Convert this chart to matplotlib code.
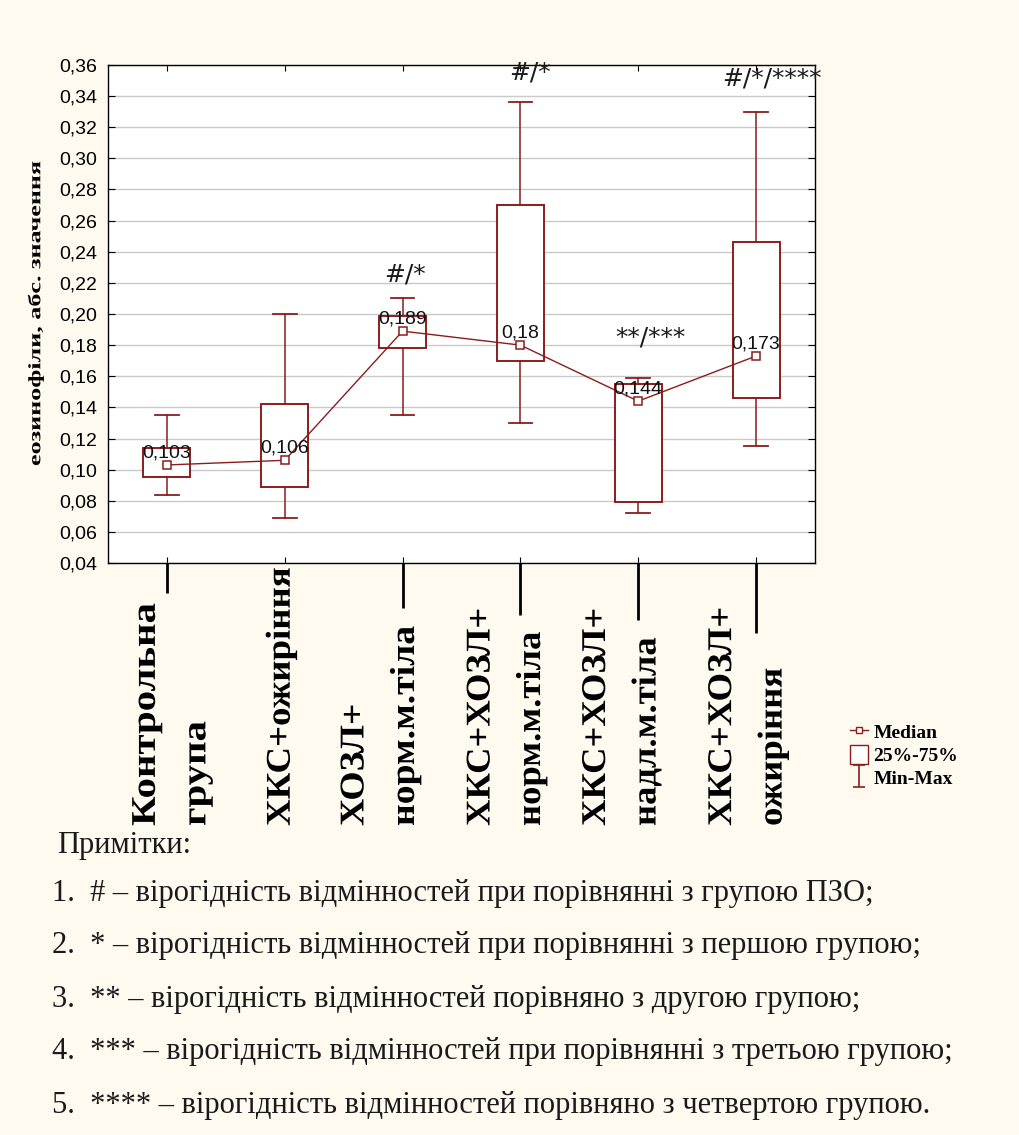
import matplotlib
matplotlib.use("Agg")
import matplotlib.pyplot as plt
from matplotlib.patheffects import AbstractPathEffect
from matplotlib.transforms import Affine2D, blended_transform_factory
from matplotlib.lines import Line2D
from matplotlib.patches import Patch
from matplotlib.path import Path

# ---- data -------------------------------------------------------------
groups = ["Контрольна\nгрупа", "ХКС+ожиріння", "ХОЗЛ+\nнорм.м.тіла",
          "ХКС+ХОЗЛ+\nнорм.м.тіла", "ХКС+ХОЗЛ+\nнадл.м.тіла",
          "ХКС+ХОЗЛ+\nожиріння"]
median = [0.103, 0.106, 0.189, 0.18, 0.144, 0.173]
q25 = [0.095, 0.089, 0.178, 0.170, 0.079, 0.146]
q75 = [0.114, 0.142, 0.199, 0.270, 0.155, 0.246]
vmin = [0.084, 0.069, 0.135, 0.130, 0.072, 0.115]
vmax = [0.135, 0.200, 0.210, 0.336, 0.159, 0.330]
marks = ["", "", "#/*", "#/*", "**/***", "#/*/****"]
y_ticks = [0.04, 0.06, 0.08, 0.10, 0.12, 0.14, 0.16, 0.18, 0.20,
           0.22, 0.24, 0.26, 0.28, 0.30, 0.32, 0.34, 0.36]
y_title = "еозинофіли, абс. значення"
legend_labels = ["Median", "25%-75%", "Min-Max"]
notes_title = "Примітки:"
notes = [
    "1.  # – вірогідність відмінностей при порівнянні з групою ПЗО;",
    "2.  * – вірогідність відмінностей при порівнянні з першою групою;",
    "3.  ** – вірогідність відмінностей порівняно з другою групою;",
    "4.  *** – вірогідність відмінностей при порівнянні з третьою групою;",
    "5.  **** – вірогідність відмінностей порівняно з четвертою групою.",
]

# ---- layout / style ---------------------------------------------------
RED = "#8c1c1c"
BG = "#fffaf0"
W, H = 1019, 1135
SANS = ["Liberation Sans", "DejaVu Sans"]
SERIF = ["Liberation Serif", "DejaVu Serif"]

mark_y = [None, None, 0.2257, 0.3555, 0.1846, 0.3516]
mark_dx = [0, 0, 0.02, 0.08, 0.10, 0.13]
label_dx = [0.04, -0.03, -0.19, -0.12, -0.14, -0.07]
label_len = [223, 259, 200, 219, 219, 220]
tick_drop = [0.060, 0.0, 0.090, 0.104, 0.114, 0.141]


class Stretch(AbstractPathEffect):
    """Draw text glyphs stretched along the writing direction."""

    def __init__(self, sx):
        super().__init__()
        self.sx = sx

    def draw_path(self, renderer, gc, tpath, affine, rgbFace=None):
        renderer.draw_path(gc, tpath, Affine2D().scale(self.sx, 1.0) + affine,
                           rgbFace)


fig = plt.figure(figsize=(W / 100, H / 100), dpi=100, facecolor=BG)
ax = fig.add_axes([108 / W, 1 - 563 / H, 707 / W, 498 / H])
ax.set_facecolor("white")

pos = list(range(1, len(groups) + 1))
stats = [dict(med=m, q1=a, q3=b, whislo=lo, whishi=hi, fliers=[])
         for m, a, b, lo, hi in zip(median, q25, q75, vmin, vmax)]
ax.bxp(stats, positions=pos, widths=0.4, capwidths=0.2, patch_artist=True,
       showfliers=False, manage_ticks=False,
       boxprops=dict(facecolor="white", edgecolor=RED, linewidth=1.4),
       whiskerprops=dict(color=RED, linewidth=1.1),
       capprops=dict(color=RED, linewidth=1.3),
       medianprops=dict(linewidth=0))

ax.plot(pos, median, color=RED, lw=1.0, marker="s", ms=5.5, mfc="white",
        mec=RED, mew=1.1, zorder=4)

for x, m in zip(pos, median):
    ax.annotate(f"{m:g}".replace(".", ","), (x, m), xytext=(0, 2.5),
                textcoords="offset points", ha="center", va="bottom",
                fontsize=14, family=SANS, color="#111111", zorder=5)

for x, t, yv, dx in zip(pos, marks, mark_y, mark_dx):
    if t:
        ax.text(x + dx, yv, t, ha="center", va="center", fontsize=18,
                family=["DejaVu Sans"], color="#1a1a1a", clip_on=False,
                zorder=5)

ax.set_xlim(0.5, 6.5)
ax.set_ylim(0.04, 0.36)
ax.set_yticks(y_ticks)
ax.set_yticklabels([f"{v:.2f}".replace(".", ",") for v in y_ticks],
                   family=SANS, fontsize=14)
ax.set_xticks(pos)
ax.set_xticklabels([""] * len(pos))
ax.tick_params(axis="y", direction="in", length=5, left=True, right=True,
               pad=8, color="black")
ax.tick_params(axis="x", direction="in", length=4, top=True, bottom=True,
               color="black")
ax.yaxis.grid(True, color="#c9c9c9", lw=1.0)
ax.set_axisbelow(True)
for s in ax.spines.values():
    s.set_color("black")
    s.set_linewidth(1.0)

# long category ticks running down to the labels
ax.vlines(pos, [-d for d in tick_drop], 0,
          transform=ax.get_xaxis_transform(), colors="black", lw=2.0,
          clip_on=False)

stretched = []
lab_tr = blended_transform_factory(ax.transData, fig.transFigure)
for x, g, dx, ln in zip(pos, groups, label_dx, label_len):
    t = ax.text(x + dx, 1 - 826 / H, g, transform=lab_tr, rotation=90,
                rotation_mode="anchor", ha="left", va="center",
                multialignment="left", fontsize=25, fontweight="bold",
                family=SERIF, linespacing=1.7, color="black")
    stretched.append((t, ln))

yl = fig.text(36 / W, 1 - 466 / H, y_title, rotation=90,
              rotation_mode="anchor", ha="left", va="center", fontsize=12.5,
              fontweight="bold", family=SERIF, color="black")
stretched.append((yl, 305))

# legend
ibeam = Path([(-0.5, 1), (0.5, 1), (0, 1), (0, -1), (-0.5, -1), (0.5, -1)],
             [Path.MOVETO, Path.LINETO, Path.MOVETO, Path.LINETO,
              Path.MOVETO, Path.LINETO])
handles = [
    Line2D([], [], color=RED, lw=1.0, marker="s", ms=5, mfc="white", mec=RED),
    Patch(facecolor="white", edgecolor=RED, lw=1.0),
    Line2D([], [], ls="none", marker=ibeam, ms=16, mec=RED, mfc="none",
           mew=1.2),
]
fig.legend(handles, legend_labels, loc="upper left",
           bbox_to_anchor=(850 / W, 1 - 722 / H), frameon=False,
           prop=dict(family=SERIF, weight="bold", size=14),
           handlelength=0.9, handleheight=1.1, handletextpad=0.3,
           labelspacing=0.15, borderaxespad=0, borderpad=0)

# notes under the chart
fig.text(57 / W, 1 - 846 / H, notes_title, ha="left", va="center",
         family=SERIF, fontsize=22, color="#1a1a1a")
for i, line in enumerate(notes):
    fig.text(52 / W, 1 - (893 + 53 * i) / H, line, ha="left", va="center",
             family=SERIF, fontsize=22, color="#1a1a1a")

fig.canvas.draw()
renderer = fig.canvas.get_renderer()
for txt, target in stretched:
    natural = txt.get_window_extent(renderer).height
    txt.set_path_effects([Stretch(target / natural)])

fig.savefig("out.png", dpi=100, facecolor=BG)
